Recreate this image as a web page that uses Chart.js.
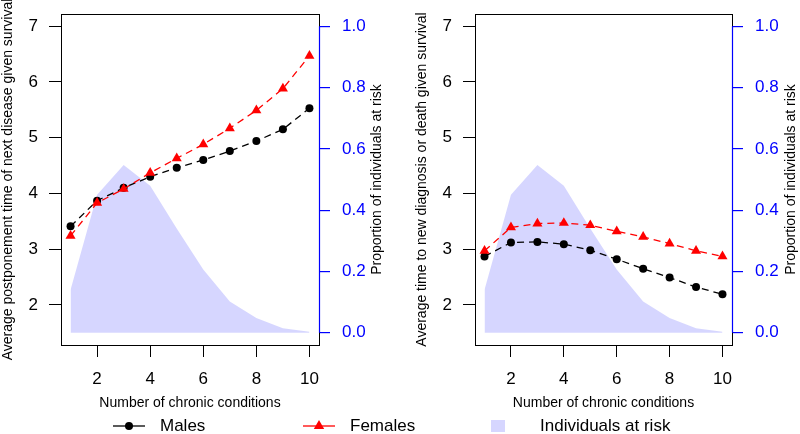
<!DOCTYPE html>
<html lang="en">
<head>
  <meta charset="UTF-8">
  <title>Chronic conditions</title>
  <script src="https://cdn.jsdelivr.net/npm/chart.js"></script>
  <style>
    body { margin: 0; background: #fff; }
    #wrap { position: relative; width: 800px; height: 434px; overflow: hidden; }
    .panel { position: absolute; top: 0; width: 400px; height: 434px; }
    #legend { position: absolute; left: 0; top: 0; width: 800px; height: 434px; pointer-events: none;
              font: 17px 'Liberation Sans', Arial, Helvetica, sans-serif; color: #000; }
    #legend span { position: absolute; top: 416px; line-height: 20px; white-space: nowrap; }
  </style>
</head>
<body>
<div id="wrap">
  <div class="panel" style="left:0"><canvas id="leftChart" width="400" height="434"></canvas></div>
  <div class="panel" style="left:400px"><canvas id="rightChart" width="400" height="434"></canvas></div>
  <div id="legend">
    <svg width="800" height="434" style="position:absolute;left:0;top:0">
      <line x1="113" y1="426" x2="145" y2="426" stroke="#000" stroke-width="1.3"/>
      <circle cx="129" cy="426" r="4" fill="#000"/>
      <line x1="303" y1="426" x2="335" y2="426" stroke="#ff0000" stroke-width="1.3"/>
      <polygon points="319,420 324.2,429 313.8,429" fill="#ff0000"/>
      <rect x="491" y="420" width="14" height="12" fill="rgba(0,0,255,0.16)"/>
    </svg>
    <span style="left:160px">Males</span>
    <span style="left:350px">Females</span>
    <span style="left:540px">Individuals at risk</span>
  </div>
</div>

<script>
  // values
  const conditions = [1, 2, 3, 4, 5, 6, 7, 8, 9, 10];
  const atRisk = [0.14, 0.45, 0.547, 0.48, 0.34, 0.206, 0.102, 0.048, 0.015, 0.003];

  const malesPostpone   = [3.41, 3.87, 4.10, 4.30, 4.46, 4.60, 4.76, 4.94, 5.15, 5.53];
  const femalesPostpone = [3.24, 3.83, 4.08, 4.37, 4.63, 4.88, 5.17, 5.49, 5.88, 6.47];

  const malesTime   = [2.87, 3.12, 3.13, 3.09, 2.98, 2.82, 2.65, 2.49, 2.32, 2.19];
  const femalesTime = [2.97, 3.39, 3.46, 3.47, 3.43, 3.32, 3.22, 3.10, 2.97, 2.87];

  const xTicks = [2, 4, 6, 8, 10];
  const yTicks = [2, 3, 4, 5, 6, 7];
  const propTicks = [0, 0.2, 0.4, 0.6, 0.8, 1.0];

  const FONT = "'Liberation Sans', Arial, Helvetica, sans-serif";
  const BLUE = '#0000ff';
  const AREA = 'rgba(0,0,255,0.16)';

  function pts(values) {
    return conditions.map((c, i) => ({ x: c, y: values[i] }));
  }

  // pin axis sizes so the plot box lands where it is in the picture
  function fixSize(prop, size) {
    return scale => {
      scale[prop] = size;
      scale.paddingTop = scale.paddingBottom = scale.paddingLeft = scale.paddingRight = 0;
    };
  }

  function setTicks(list) {
    return scale => { scale.ticks = list.map(v => ({ value: v })); };
  }

  // box round the plot, blue axis line for the proportion scale, right-hand title
  const frame = {
    id: 'frame',
    afterDatasetsDraw(chart, args, opts) {
      const { ctx, chartArea: a, scales } = chart;
      ctx.save();
      ctx.strokeStyle = '#000';
      ctx.lineWidth = 1;
      ctx.strokeRect(Math.round(a.left) + 0.5, Math.round(a.top) + 0.5,
                     Math.round(a.right - a.left), Math.round(a.bottom - a.top));

      const x = Math.round(a.right) + 0.5;
      ctx.strokeStyle = BLUE;
      ctx.lineWidth = 1.2;
      ctx.beginPath();
      ctx.moveTo(x, scales.y1.getPixelForValue(propTicks[0]));
      ctx.lineTo(x, scales.y1.getPixelForValue(propTicks[propTicks.length - 1]));
      ctx.stroke();

      ctx.translate(opts.titleX, (a.top + a.bottom) / 2);
      ctx.rotate(-Math.PI / 2);
      ctx.font = '14px ' + FONT;
      ctx.fillStyle = '#000';
      ctx.textAlign = 'center';
      ctx.textBaseline = 'middle';
      ctx.fillText(opts.text, 0, 0);
      ctx.restore();
    }
  };

  function makePanel(id, males, females, yTitle, cfg) {
    new Chart(document.getElementById(id), {
      type: 'line',
      data: {
        datasets: [
          {
            label: 'Females',
            data: pts(females),
            borderColor: '#ff0000',
            borderWidth: 1.3,
            borderDash: [7, 5],
            pointStyle: 'triangle',
            pointRadius: 5.8,
            pointBackgroundColor: '#ff0000',
            pointBorderWidth: 0,
            tension: 0,
            yAxisID: 'y',
            order: 1
          },
          {
            label: 'Males',
            data: pts(males),
            borderColor: '#000',
            borderWidth: 1.3,
            borderDash: [7, 5],
            pointStyle: 'circle',
            pointRadius: 4,
            pointBackgroundColor: '#000',
            pointBorderWidth: 0,
            tension: 0,
            yAxisID: 'y',
            order: 2
          },
          {
            label: 'Individuals at risk',
            data: pts(atRisk),
            borderWidth: 0,
            pointRadius: 0,
            backgroundColor: AREA,
            fill: { value: 0 },
            tension: 0,
            yAxisID: 'y1',
            order: 3
          }
        ]
      },
      options: {
        responsive: false,
        animation: false,
        events: [],
        layout: { padding: { top: 14, left: 0, right: 0, bottom: 0 } },
        plugins: {
          legend: { display: false },
          tooltip: { enabled: false },
          frame: { text: 'Proportion of individuals at risk', titleX: cfg.rightTitleX }
        },
        scales: {
          x: {
            type: 'linear',
            min: 0.64, max: 10.36,
            afterBuildTicks: setTicks(xTicks),
            afterFit: fixSize('height', 89),
            border: { display: false },
            grid: { drawOnChartArea: false, tickLength: 12, color: '#000', lineWidth: 1 },
            ticks: { color: '#000', font: { family: FONT, size: 17 }, padding: 12, maxRotation: 0 },
            title: {
              display: true, text: 'Number of chronic conditions', color: '#000',
              font: { family: FONT, size: 14 }, padding: { top: 0, bottom: 22.6 }
            }
          },
          y: {
            position: 'left',
            min: 1.28, max: 7.22,
            afterBuildTicks: setTicks(yTicks),
            afterFit: fixSize('width', cfg.leftW),
            border: { display: false },
            grid: { drawOnChartArea: false, tickLength: 12, color: '#000', lineWidth: 1 },
            ticks: { color: '#000', font: { family: FONT, size: 17 }, padding: 11 },
            title: {
              display: true, text: yTitle, color: '#000',
              font: { family: FONT, size: 14 }, padding: { top: cfg.leftTitlePad, bottom: 0 }
            }
          },
          y1: {
            position: 'right',
            min: -0.04, max: 1.04,
            afterBuildTicks: setTicks(propTicks),
            afterFit: fixSize('width', cfg.rightW),
            border: { display: false },
            grid: { drawOnChartArea: false, tickLength: 11, color: BLUE, lineWidth: 1.2 },
            ticks: {
              color: BLUE, font: { family: FONT, size: 17 }, padding: 12,
              callback: v => v.toFixed(1)
            }
          }
        }
      },
      plugins: [frame]
    });
  }

  makePanel('leftChart', malesPostpone, femalesPostpone,
    'Average postponement time of next disease given survival',
    { leftW: 61, rightW: 81, leftTitlePad: 0, rightTitleX: 377 });

  makePanel('rightChart', malesTime, femalesTime,
    'Average time to new diagnosis or death given survival',
    { leftW: 75, rightW: 68, leftTitlePad: 13.6, rightTitleX: 391 });
</script>
</body>
</html>
